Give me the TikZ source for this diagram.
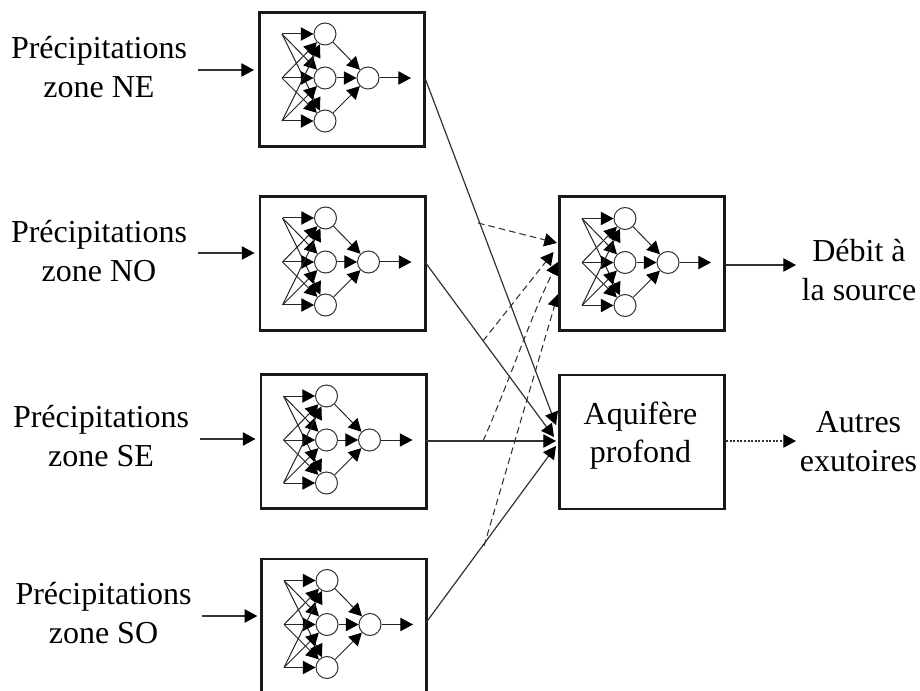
\documentclass[tikz,border=0pt]{standalone}
\usepackage{fontspec}
\setmainfont{Liberation Serif}
\usetikzlibrary{arrows.meta}
\tikzset{
  x=0.75pt,y=-0.75pt,
  boxed/.style={draw=black!90,line width=2pt,minimum width=124pt,minimum height=100.5pt,inner sep=0pt,anchor=north west,fill=white},
  neuron/.style={circle,draw=black!80,line width=0.75pt,minimum size=16.5pt,inner sep=0pt,fill=white},
  inpt/.style={coordinate},
  synapse/.style={draw=black!85,line width=0.75pt,-{Triangle[length=9.5pt,width=10pt,black]}},
  link/.style={draw=black!80,line width=0.9pt,-{Triangle[length=9.5pt,width=10pt,black]}},
  dashlink/.style={link,line width=0.8pt,dash pattern=on 5pt off 3pt},
  dotlink/.style={link,line width=0.8pt,dash pattern=on 1.5pt off 1.2pt},
  lab/.style={align=center,font=\fontsize{24}{28.8}\selectfont,inner sep=0pt},
}
% name, left x, top y
\newcommand{\netbox}[3]{%
  \node[boxed] (#1) at (#2,#3) {};
  \begin{scope}[shift={(#2,#3)}]
    \node[inpt] (#1i1) at (24,23) {};
    \node[inpt] (#1i2) at (24,67) {};
    \node[inpt] (#1i3) at (24,110) {};
    \node[neuron] (#1h1) at (67,23) {};
    \node[neuron] (#1h2) at (67,67) {};
    \node[neuron] (#1h3) at (67,110) {};
    \node[neuron] (#1o) at (110,67) {};
    \node[inpt] (#1e) at (153,67) {};
  \end{scope}
  \foreach \a in {1,2,3}{\foreach \b in {1,2,3}{
    \draw[synapse] (#1i\a) -- (#1h\b);
  }}
  \foreach \b in {1,2,3}{\draw[synapse] (#1h\b) -- (#1o);}
  \draw[synapse] (#1o) -- (#1e);
}
\begin{document}
\begin{tikzpicture}
\useasboundingbox (0,0) rectangle (920,691);

\coordinate (d1) at (478,223);
\coordinate (d2) at (483,341);
\coordinate (d3) at (483,441);
\coordinate (d4) at (484,546);
\coordinate (f1) at (557,243);
\coordinate (f2) at (553.5,252);
\coordinate (f3) at (558,262);
\coordinate (f4) at (558,294);
\draw[dashlink] (d1) -- (f1);
\draw[dashlink] (d2) -- (f2);
\draw[dashlink] (d3) .. controls (510,380) and (530,318) .. (f3);
\draw[dashlink] (d4) -- (f4);

\netbox{ne}{258}{11}
\netbox{no}{258.5}{195}
\netbox{se}{259.5}{373}
\netbox{so}{260}{557.5}
\netbox{deb}{558}{195.5}
\node[boxed] (aq) at (558,373.5) {};
\node[lab] (aqt) at (640.5,435.5) {Aquifère\\profond};

\node[lab] (tne) at (99,67) {Précipitations\\zone NE};
\node[lab] (tno) at (99,251) {Précipitations\\zone NO};
\node[lab] (tse) at (101,436) {Précipitations\\zone SE};
\node[lab] (tso) at (103.5,613) {Précipitations\\zone SO};
\node[lab] (tdeb) at (859,270) {Débit à\\la source};
\node[lab] (taut) at (858.5,441.5) {Autres\\exutoires};

\coordinate (ane) at (198,70);
\coordinate (ano) at (198,253);
\coordinate (ase) at (200,439);
\coordinate (aso) at (202,616);
\draw[link,shorten >=3pt] (ane) -- (ne.west |- ane);
\draw[link,shorten >=3pt] (ano) -- (no.west |- ano);
\draw[link,shorten >=3pt] (ase) -- (se.west |- ase);
\draw[link,shorten >=2pt] (aso) -- (so.west |- aso);

\coordinate (sne) at (425,78);
\coordinate (sno) at (425,262);
\coordinate (sse) at (426,441);
\coordinate (sso) at (426,622.7);
\coordinate (ene) at (556,425);
\coordinate (eno) at (554,437);
\coordinate (ese) at (556,441);
\coordinate (eso) at (556,446);
\draw[link] (sne) -- (ene);
\draw[link] (sno) -- (eno);
\draw[link] (sse) -- (ese);
\draw[link] (sso) -- (eso);

\coordinate (xdeb) at (726,265);
\coordinate (ydeb) at (796,265);
\coordinate (xaut) at (726,441);
\coordinate (yaut) at (796,441);
\draw[link] (xdeb) -- (ydeb);
\draw[dotlink] (xaut) -- (yaut);
\end{tikzpicture}
\end{document}
